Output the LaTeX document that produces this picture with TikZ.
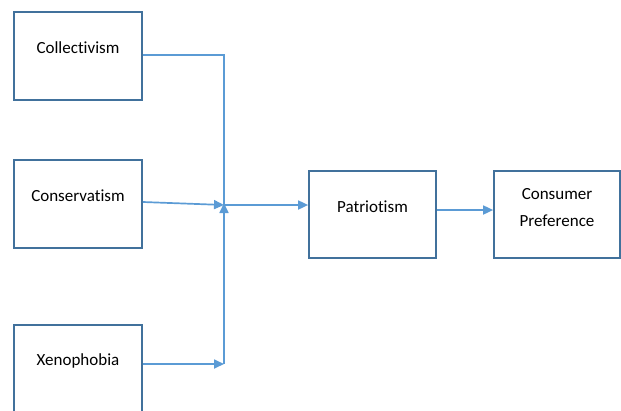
\documentclass[tikz,border=0pt]{standalone}
\usepackage{fontspec}
\setmainfont[RawFeature={-liga;-clig;-dlig}]{Carlito}
\usetikzlibrary{arrows.meta}
\definecolor{boxc}{HTML}{41719C}
\definecolor{arrc}{HTML}{5B9BD5}
\tikzset{
  box/.style={draw=boxc, line width=1.7pt, rectangle, inner sep=0pt},
  txt/.style={font=\fontsize{17}{27}\selectfont, text=black, align=center, inner sep=0pt},
  conn/.style={draw=arrc, line width=1.7pt},
  arr/.style={conn, -{Triangle[length=10pt,width=9pt]}},
}
\begin{document}
\begin{tikzpicture}[x=1pt,y=-1pt]
\clip (0,0) rectangle (621,410);
\useasboundingbox (0,0) rectangle (621,410);
% boxes
\node[box, minimum width=128pt, minimum height=88pt] (col) at (78,56) {};
\node[txt] (colt) at (78,48) {Collectivism};
\node[box, minimum width=128pt, minimum height=88pt] (con) at (78,204) {};
\node[txt] (cont) at (78,196) {Conservatism};
\node[box, minimum width=128pt, minimum height=88pt] (xen) at (78,369) {};
\node[txt] (xent) at (78,361) {Xenophobia};
\node[box, minimum width=127pt, minimum height=87pt] (pat) at (372.5,214.5) {};
\node[txt] (patt) at (372.5,207) {Patriotism};
\node[box, minimum width=126pt, minimum height=87pt] (cp) at (557,214.5) {};
\node[txt] (cpt) at (557,208) {Consumer\\Preference};
% junction coordinates
\coordinate (j) at (224,205);
\coordinate (jtop) at (224,55);
\coordinate (jbot) at (224,364);
\coordinate (jup) at (224,203);
% connectors
\draw[conn] (col.east |- 0,55) -- (jtop) -- (j);
\draw[arr] (con.east |- 0,202) -- (j);
\draw[arr] (xen.east |- 0,364) -- (jbot);
\draw[arr] (jbot) -- (jup);
\draw[arr] (j) -- (pat.west |- j);
\draw[arr] (pat.east |- 0,210) -- (cp.west |- 0,210);
\end{tikzpicture}
\end{document}
